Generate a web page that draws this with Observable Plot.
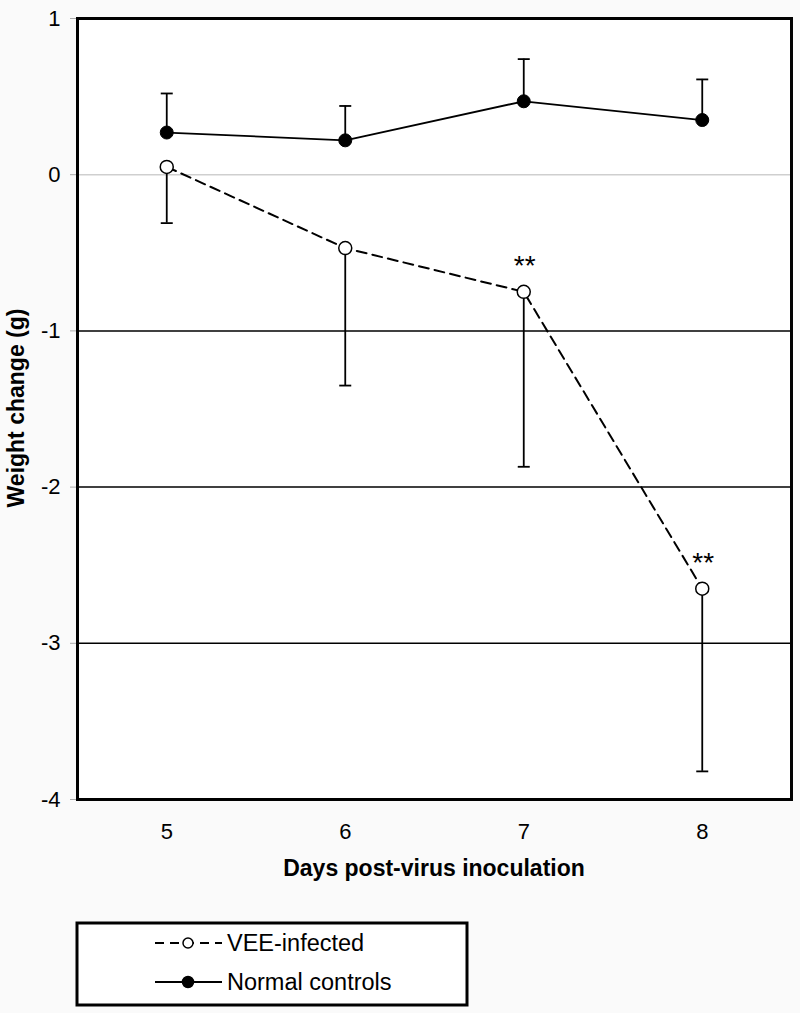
<!DOCTYPE html>
<html><head><meta charset="utf-8">
<script src="https://cdn.jsdelivr.net/npm/d3@7"></script>
<script src="https://cdn.jsdelivr.net/npm/@observablehq/plot@0.6"></script>
<style>
body{margin:0;background:#fafafa;font-family:"Liberation Sans",Arial,sans-serif;}
#chart{width:800px;}
#chart svg{display:block;}
</style></head><body><div id="chart"></div><script>
const days = [5, 6, 7, 8];
const veeMean = [0.05, -0.47, -0.75, -2.65];
const veeSD = [0.36, 0.88, 1.12, 1.17];
const normalMean = [0.27, 0.22, 0.47, 0.35];
const normalSD = [0.25, 0.22, 0.27, 0.26];
const veeSig = ["", "", "**", "**"];
const yTicks = [1, 0, -1, -2, -3, -4];
const blackGrid = [-1, -2, -3];
const grayGrid = [0];
const seriesNames = ["VEE-infected", "Normal controls"];
const xTitle = "Days post-virus inoculation";
const yTitle = "Weight change (g)";

const vee = days.map((d, i) => ({day: d, mean: veeMean[i], end: veeMean[i] - veeSD[i], sig: veeSig[i]}));
const normal = days.map((d, i) => ({day: d, mean: normalMean[i], end: normalMean[i] + normalSD[i]}));

const capSymbol = {draw(ctx, size) { const w = 6; ctx.moveTo(-w, 0); ctx.lineTo(w, 0); }};
const fmt = d => String(d);

const plot = Plot.plot({
  width: 800, height: 900,
  marginLeft: 77, marginRight: 9, marginTop: 18, marginBottom: 101,
  style: {fontFamily: "'Liberation Sans', Arial, sans-serif", fontSize: "22px", color: "black", background: "transparent"},
  x: {domain: [4.5, 8.5]},
  y: {domain: [-4, 1]},
  marks: [
    Plot.frame({fill: "white"}),
    Plot.ruleY(grayGrid, {stroke: "#cfcfcf", strokeWidth: 1.5}),
    Plot.ruleY(blackGrid, {stroke: "black", strokeWidth: 1.5}),
    Plot.axisY(yTicks, {tickSize: 7, tickPadding: 10, stroke: "#aaa", fill: "black", label: null, fontSize: 22, tickFormat: fmt}),
    Plot.axisX(days, {tickSize: 0, tickPadding: 24, label: null, tickFormat: fmt, fontSize: 22}),
    Plot.ruleX(vee, {x: "day", y1: "mean", y2: "end", stroke: "black", strokeWidth: 1.8}),
    Plot.dot(vee, {x: "day", y: "end", symbol: capSymbol, r: 6, stroke: "black", strokeWidth: 1.8}),
    Plot.ruleX(normal, {x: "day", y1: "mean", y2: "end", stroke: "black", strokeWidth: 1.8}),
    Plot.dot(normal, {x: "day", y: "end", symbol: capSymbol, r: 6, stroke: "black", strokeWidth: 1.8}),
    Plot.line(vee, {x: "day", y: "mean", stroke: "black", strokeWidth: 2, strokeDasharray: "10,6"}),
    Plot.line(normal, {x: "day", y: "mean", stroke: "black", strokeWidth: 1.8}),
    Plot.dot(vee, {x: "day", y: "mean", r: 6.5, fill: "white", stroke: "black", strokeWidth: 1.5}),
    Plot.dot(normal, {x: "day", y: "mean", r: 6.5, fill: "black", stroke: "black", strokeWidth: 1}),
    Plot.text(vee.filter(d => d.sig), {x: "day", y: "mean", text: "sig", dy: -26, dx: 1, fontSize: 28, fill: "black"}),
    Plot.frame({stroke: "black", strokeWidth: 3})
  ]
});

const svg = d3.select(plot);
svg.append("text")
  .attr("transform", "translate(16,408) rotate(-90)")
  .attr("text-anchor", "middle").attr("dy", "0.35em")
  .attr("font-weight", "bold").attr("font-size", 23).attr("fill", "black")
  .text(yTitle);
svg.append("text")
  .attr("x", 434).attr("y", 876)
  .attr("text-anchor", "middle")
  .attr("font-weight", "bold").attr("font-size", 23).attr("fill", "black")
  .text(xTitle);

document.getElementById("chart").appendChild(plot);

// Legend below the chart
const leg = d3.select("#chart").append("svg")
  .attr("width", 800).attr("height", 113)
  .style("font-family", "'Liberation Sans', Arial, sans-serif");
leg.append("rect").attr("x", 77).attr("y", 23).attr("width", 390).attr("height", 82)
  .attr("fill", "white").attr("stroke", "black").attr("stroke-width", 3);
const rows = [
  {name: seriesNames[0], y: 43, dash: "9,6", fill: "white", r: 5},
  {name: seriesNames[1], y: 82, dash: null, fill: "black", r: 5.5}
];
rows.forEach(r => {
  leg.append("line").attr("x1", 155).attr("x2", 222).attr("y1", r.y).attr("y2", r.y)
    .attr("stroke", "black").attr("stroke-width", 1.8).attr("stroke-dasharray", r.dash);
  leg.append("circle").attr("cx", 188).attr("cy", r.y).attr("r", r.r)
    .attr("fill", r.fill).attr("stroke", "black").attr("stroke-width", 1.5);
  leg.append("text").attr("x", 227).attr("y", r.y).attr("dy", "0.35em")
    .attr("font-size", 23.5).attr("fill", "black").text(r.name);
});
</script></body></html>
